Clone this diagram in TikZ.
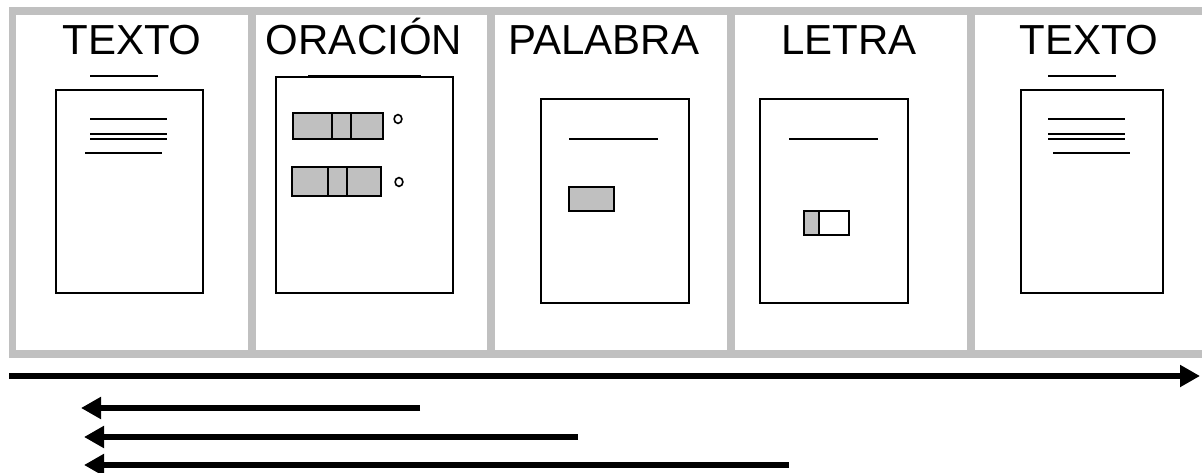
\documentclass[tikz,border=0pt]{standalone}
\usepackage{fontspec}
\setmainfont{Liberation Sans}
\usetikzlibrary{arrows.meta}
\definecolor{framegray}{RGB}{192,192,192}
\definecolor{boxgray}{RGB}{192,192,192}
\begin{document}
\begin{tikzpicture}[x=1pt,y=-1pt,
  title/.style={anchor=base,inner sep=0pt,font=\fontsize{42}{50}\selectfont},
  page/.style={draw=black,line width=2pt,fill=white},
  rule/.style={draw=black,line width=2pt},
  thinrule/.style={draw=black,line width=1.6pt},
  cell/.style={draw=black,line width=2pt,fill=boxgray},
  emptycell/.style={draw=black,line width=2pt,fill=white},
  framepen/.style={draw=framegray,line width=7.5pt},
  bigarrow/.style={line width=6.5pt,-{Triangle[length=20pt,width=21pt]}}]
\useasboundingbox (0,0) rectangle (1202,473);
\begin{scope}
\clip (0,0) rectangle (1202,473);
% frame
\draw[framepen] (12.5,11) rectangle (1215,354);
\foreach \xx in {252,491,731,971} \draw[framepen] (\xx,11) -- (\xx,354);
\end{scope}
% titles
\node[title] (t1) at (132,55) {TEXTO};
\node[title] (t2) at (364,55) {ORACIÓN};
\node[title] (t3) at (604,55) {PALABRA};
\node[title] (t4) at (849,55) {LETRA};
\node[title] (t5) at (1089,55) {TEXTO};
% panel 1
\draw[rule] (90,76) -- (158,76);
\draw[page] (56,90) rectangle (203,293);
\draw[thinrule] (90,119) -- (167,119);
\draw[thinrule] (90,134) -- (167,134);
\draw[thinrule] (90,139) -- (167,139);
\draw[thinrule] (85,153) -- (162,153);
% panel 2
\draw[rule] (308,76) -- (421,76);
\draw[page] (276,77) rectangle (453,293);
\draw[cell] (293,113) rectangle (383,139);
\draw[line width=2pt] (332,113) -- (332,139) (351,113) -- (351,139);
\draw[line width=1.6pt] (398,119) ellipse (3.9 and 4.4);
\draw[cell] (292,167) rectangle (381,196);
\draw[line width=2pt] (328,167) -- (328,196) (347,167) -- (347,196);
\draw[line width=1.6pt] (399,182) ellipse (3.9 and 4.4);
% panel 3
\draw[page] (541,99) rectangle (689,303);
\draw[rule] (569,139) -- (658,139);
\draw[cell] (569,187) rectangle (614,211);
% panel 4
\draw[page] (760,99) rectangle (908,303);
\draw[rule] (789,139) -- (878,139);
\draw[emptycell] (804,211) rectangle (849,235);
\draw[cell] (804,211) rectangle (819,235);
% panel 5
\draw[rule] (1048,76) -- (1116,76);
\draw[page] (1021,90) rectangle (1163,293);
\draw[thinrule] (1048,119) -- (1125,119);
\draw[thinrule] (1048,134) -- (1125,134);
\draw[thinrule] (1048,139) -- (1125,139);
\draw[thinrule] (1053,153) -- (1130,153);
% arrows
\coordinate (a0s) at (9,376);
\coordinate (a0e) at (1200,376);
\coordinate (a1s) at (420,408);
\coordinate (a1e) at (81,408);
\coordinate (a2s) at (578,437);
\coordinate (a2e) at (84,437);
\coordinate (a3s) at (789,465);
\coordinate (a3e) at (84,465);
\draw[bigarrow] (a0s) -- (a0e);
\draw[bigarrow] (a1s) -- (a1e);
\draw[bigarrow] (a2s) -- (a2e);
\draw[bigarrow] (a3s) -- (a3e);
\end{tikzpicture}
\end{document}
